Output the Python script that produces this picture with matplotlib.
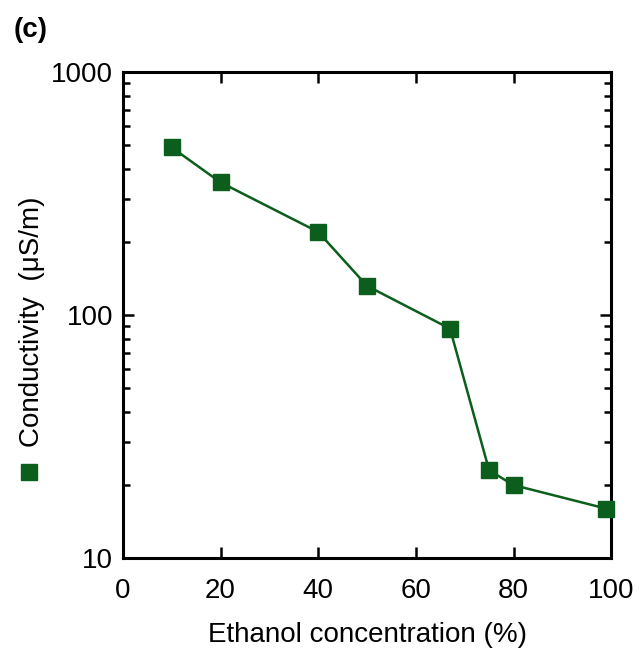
import matplotlib.pyplot as plt
from matplotlib.lines import Line2D
from matplotlib.ticker import LogLocator, NullFormatter, FixedLocator

plt.rcParams['font.family'] = ['Liberation Sans', 'DejaVu Sans']

# data
ethanol = [10, 20, 40, 50, 67, 75, 80, 99]
conductivity = [490, 352, 220, 132, 88, 23, 20, 16]

green = '#0b5e1c'

fig = plt.figure(figsize=(6.4, 6.56), dpi=100)
ax = fig.add_axes([0.192, 0.149, 0.763, 0.741])

ax.plot(ethanol, conductivity, color=green, lw=1.8, marker='s', ms=11,
        mec=green, mfc=green, clip_on=False, zorder=3)

ax.set_yscale('log')
ax.set_ylim(10, 1000)
ax.set_xlim(0, 100)

ax.xaxis.set_major_locator(FixedLocator([0, 20, 40, 60, 80, 100]))
ax.yaxis.set_minor_locator(LogLocator(base=10, subs=range(2, 10)))
ax.yaxis.set_minor_formatter(NullFormatter())
ax.set_yticks([10, 100, 1000])
ax.set_yticklabels(['10', '100', '1000'])

ax.tick_params(which='both', direction='in', top=True, right=True,
               labelsize=20, width=1.8)
ax.tick_params(axis='x', pad=14)
ax.tick_params(axis='y', pad=7)
ax.tick_params(which='major', length=8)
ax.tick_params(which='minor', length=5)
for s in ax.spines.values():
    s.set_linewidth(2.2)

ax.set_xlabel('Ethanol concentration (%)', fontsize=20, labelpad=13)
ax.set_ylabel('Conductivity  (\u03bcS/m)', fontsize=20)
ax.yaxis.set_label_coords(-0.16, 0.487)

# legend symbol below the y label
fig.add_artist(Line2D([0.046], [1 - 472 / 656], marker='s', ms=11,
                      color=green, transform=fig.transFigure))

fig.text(0.022, 0.955, '(c)', fontsize=20, fontweight='bold', va='center')

fig.savefig('out.png', dpi=100)
